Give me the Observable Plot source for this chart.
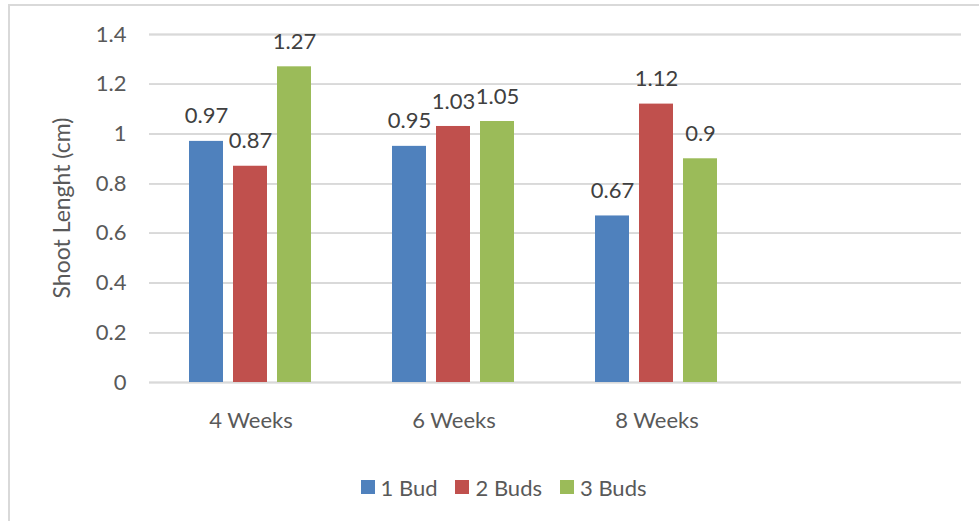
<!DOCTYPE html>
<html>
<head>
<meta charset="utf-8">
<script src="https://cdn.jsdelivr.net/npm/d3@7"></script>
<script src="https://cdn.jsdelivr.net/npm/@observablehq/plot@0.6"></script>
<style>
  html, body { margin: 0; padding: 0; background: white; }
  #wrap { position: relative; width: 979px; height: 521px; overflow: hidden; font-family: Lato, sans-serif; }
  #border { position: absolute; left: 8px; top: 4px; width: 1000px; height: 600px;
            border-top: 2px solid #D9D9D9; border-left: 2px solid #D9D9D9; pointer-events: none; z-index: 5; }
  #ytitle { position: absolute; left: 61px; top: 208px; transform: translate(-50%, -50%) rotate(-90deg);
            white-space: nowrap; font-size: 23px; color: #595959; font-family: Lato, sans-serif; }
  #legend { width: 979px; height: 54px; display: flex; align-items: center; justify-content: center; padding-left: 28px; box-sizing: border-box; }
  #legend div { display: flex !important; align-items: center !important; justify-content: center; margin: 0 !important; min-height: 0 !important; font-size: 22px !important; font-family: Lato, sans-serif !important; color: #595959 !important; }
  #legend span { display: inline-flex !important; align-items: center !important; margin-right: 18px !important; }
  #legend span:last-child { margin-right: 0 !important; }
  #legend svg { margin-right: 6px !important; }
</style>
</head>
<body>
<div id="wrap">
  <div id="border"></div>
  <div id="chart"></div>
  <div id="legend"></div>
  <div id="ytitle">Shoot Lenght (cm)</div>
</div>
<script>
const categories = ["4 Weeks", "6 Weeks", "8 Weeks", ""];
const series = ["1 Bud", "2 Buds", "3 Buds"];
const colors = ["#4F81BD", "#C0504D", "#9BBB59"];
const bud1 = [0.97, 0.95, 0.67];
const buds2 = [0.87, 1.03, 1.12];
const buds3 = [1.27, 1.05, 0.9];
const yTicks = [0, 0.2, 0.4, 0.6, 0.8, 1, 1.2, 1.4];
const yTickLabels = ["0", "0.2", "0.4", "0.6", "0.8", "1", "1.2", "1.4"];

const seriesValues = [bud1, buds2, buds3];
const data = [];
categories.slice(0, 3).forEach((week, i) => {
  series.forEach((s, j) => {
    data.push({week, series: s, value: seriesValues[j][i]});
  });
});
const grid = [];
categories.forEach(week => yTicks.forEach(t => grid.push({week, t})));

const plot = Plot.plot({
  width: 979,
  height: 460,
  marginLeft: 148,
  marginRight: 18,
  marginTop: 34,
  marginBottom: 78,
  style: {fontFamily: "Lato, sans-serif", fontSize: "22px", color: "#595959", background: "transparent", overflow: "visible"},
  facet: {data, x: "week"},
  fx: {domain: categories, padding: 0, axis: "bottom", tickSize: 0, tickPadding: 30, label: null},
  x: {domain: series, paddingInner: 0.22, paddingOuter: 0.87, axis: null},
  y: {domain: [0, 1.4], ticks: yTicks, tickFormat: d => yTickLabels[yTicks.indexOf(d)], tickSize: 0, tickPadding: 23, label: null},
  color: {domain: series, range: colors},
  marks: [
    Plot.ruleY(grid, {y: "t", fx: "week", facet: "exclude", stroke: "#D9D9D9", strokeWidth: 1.5}),
    Plot.ruleY(grid, {y: "t", fx: "week", stroke: "#D9D9D9", strokeWidth: 1.5}),
    Plot.barY(data, {x: "series", y: "value", fill: "series"}),
    Plot.text(data, {x: "series", y: "value", text: d => String(d.value), dy: -25, fill: "#404040", fontSize: 22})
  ]
});
document.getElementById("chart").appendChild(plot);

const legend = Plot.legend({color: {domain: series, range: colors}, legend: "swatches", swatchSize: 14, style: {fontFamily: "Lato, sans-serif", fontSize: "22px", color: "#595959"}});
document.getElementById("legend").appendChild(legend);
</script>
</body>
</html>
